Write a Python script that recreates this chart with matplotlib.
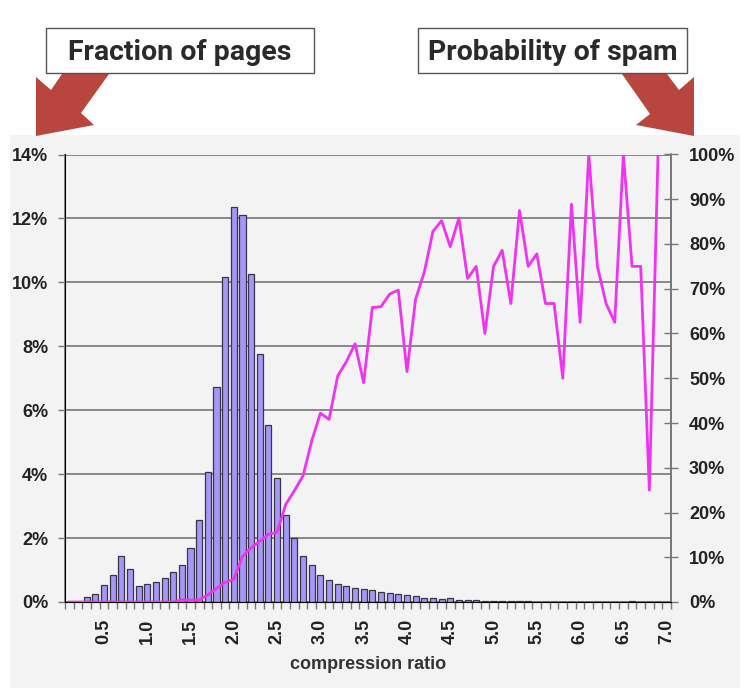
import numpy as np
import matplotlib
matplotlib.use("Agg")
import matplotlib.pyplot as plt
from matplotlib.patches import Polygon, Rectangle
from matplotlib.ticker import FixedLocator, PercentFormatter

# categories 0.1 .. 7.0
ratios = [round(0.1 * k, 1) for k in range(1, 71)]

# fraction of pages (%) per compression ratio bin
pages = [0, 0, 0.15, 0.24, 0.53, 0.86, 1.45, 1.03, 0.49, 0.57,
         0.64, 0.74, 0.93, 1.16, 1.69, 2.55, 4.08, 6.74, 10.18, 12.36,
         12.11, 10.26, 7.76, 5.53, 3.88, 2.71, 1.99, 1.45, 1.15, 0.86,
         0.69, 0.56, 0.50, 0.43, 0.41, 0.36, 0.31, 0.28, 0.25, 0.23,
         0.19, 0.14, 0.11, 0.08, 0.11, 0.06, 0.05, 0.05, 0.03, 0.03,
         0.02, 0.02, 0.02, 0.02, 0.015, 0.015, 0.01, 0.01, 0.01, 0.01,
         0.01, 0.01, 0.01, 0.01, 0.01, 0.03, 0.01, 0.01, 0.01, 0.01]

# probability of spam (%) per bin
spam = [0, 0, 0, 0, 0, 0, 0, 0, 0, 0,
        0, 0, 0, 0.5, 0.4, 0.45, 1.6, 3.0, 4.4, 5.1,
        10.2, 12.1, 13.6, 15.1, 15.6, 21.8, 24.9, 28.2, 36.0, 42.2,
        40.8, 50.5, 53.7, 57.7, 49.0, 65.8, 66.0, 68.8, 69.7, 51.5,
        67.7, 73.7, 82.8, 85.2, 79.4, 85.8, 72.3, 75.0, 60.0, 75.0,
        78.6, 66.7, 87.5, 75.0, 77.8, 66.7, 66.7, 50.0, 88.9, 62.5,
        100, 75.0, 66.7, 62.5, 100, 75.0, 75.0, 25.0, 100, 100]

left_ticks = [0, 2, 4, 6, 8, 10, 12, 14]
right_ticks = list(range(0, 101, 10))
label_every = 5

W, H = 744, 688
fig = plt.figure(figsize=(W / 100, H / 100), dpi=100)
fig.patch.set_facecolor("white")
plt.rcParams["font.family"] = ["Liberation Sans", "DejaVu Sans"]

# grey panel behind chart
bg = fig.add_axes([0, 0, 1, 1], zorder=-5)
bg.set_xlim(0, W)
bg.set_ylim(H, 0)
bg.axis("off")
bg.add_patch(Rectangle((10, 135), 730, H - 135, facecolor="#f3f3f3",
                       edgecolor="none"))

x = np.arange(len(ratios))
ax = fig.add_axes([65 / W, 1 - 602 / H, 606 / W, 447.5 / H])
ax.set_facecolor("#f3f3f3")
ax.bar(x, pages, width=0.7, color="#a597f7", edgecolor="#3a3448",
       linewidth=0.9, zorder=3)
ax.set_xlim(-0.5, len(ratios) - 0.5)
ax.set_ylim(0, 14)
ax.set_yticks(left_ticks)
ax.yaxis.set_major_formatter(PercentFormatter(decimals=0))
ax.grid(axis="y", color="#777777", linewidth=1.2, zorder=1)
ax.set_axisbelow(True)

# category boundary ticks, labels every 0.5
ax.xaxis.set_major_locator(FixedLocator(np.arange(-0.5, len(ratios), 1.0)))
ax.set_xticklabels([])
lab_pos = [i for i, r in enumerate(ratios) if round(r * 10) % label_every == 0]
ax.xaxis.set_minor_locator(FixedLocator(lab_pos))
ax.set_xticklabels([f"{ratios[i]:.1f}" for i in lab_pos], minor=True,
                   rotation=90, fontsize=13, fontweight="bold", color="#222222")
ax.tick_params(axis="x", which="major", length=5, width=1, color="#777777")
ax.tick_params(axis="x", which="minor", length=0, pad=12)
ax.tick_params(axis="y", length=5, width=1, color="#777777",
               labelsize=13, pad=7)
for t in ax.get_yticklabels():
    t.set_fontweight("bold")
    t.set_color("#222222")
ax.set_xlabel("compression ratio", fontsize=13, fontweight="bold",
              color="#333333", labelpad=9)
ax.spines["top"].set_visible(False)
for side in ["left", "bottom", "right"]:
    ax.spines[side].set_color("#777777")
    ax.spines[side].set_linewidth(1.2)

ax2 = ax.twinx()
ax2.plot(x, spam, color="#f033f0", linewidth=2, zorder=4)
ax2.set_ylim(0, 100)
ax2.set_yticks(right_ticks)
ax2.yaxis.set_major_formatter(PercentFormatter(decimals=0))
ax2.tick_params(axis="y", direction="inout", length=10, width=1,
                color="#777777", labelsize=13, pad=8)
for t in ax2.get_yticklabels():
    t.set_fontweight("bold")
    t.set_color("#222222")
ax2.spines["top"].set_visible(False)
ax2.spines["right"].set_color("#777777")
ax2.spines["right"].set_linewidth(1.2)

# overlay for annotation boxes and arrows in pixel coordinates
ov = fig.add_axes([0, 0, 1, 1], zorder=10)
ov.set_xlim(0, W)
ov.set_ylim(H, 0)
ov.axis("off")

red = "#b9463e"
left_arrow = [(62, 74), (109, 74), (81, 113), (94, 125), (36, 136),
              (36, 77), (51, 90)]
right_arrow = [(622, 74), (667, 74), (679, 90), (694, 77), (694, 136),
               (636, 125), (650, 114)]
ov.add_patch(Polygon(left_arrow, closed=True, facecolor=red, edgecolor="none"))
ov.add_patch(Polygon(right_arrow, closed=True, facecolor=red, edgecolor="none"))

for (x0, x1, txt) in [(46, 314, "Fraction of pages"),
                      (418, 687, "Probability of spam")]:
    ov.add_patch(Rectangle((x0, 28), x1 - x0, 45, facecolor="white",
                           edgecolor="#555555", linewidth=1))
    ov.text((x0 + x1) / 2, 52, txt, ha="center", va="center",
            fontsize=20.5, fontweight="bold", color="#2a2a2a",
            family=["Roboto", "DejaVu Sans"])

fig.savefig("out.png", dpi=100)
